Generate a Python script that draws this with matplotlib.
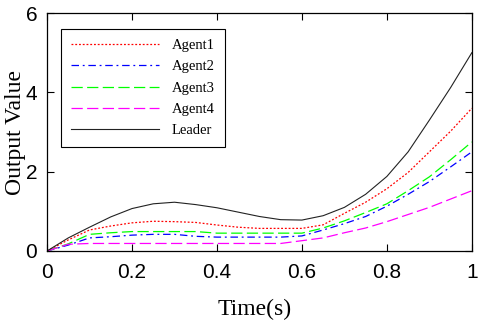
import matplotlib
matplotlib.use("Agg")
import matplotlib.pyplot as plt

# time samples (s)
t = [0.0, 0.05, 0.1, 0.15, 0.2, 0.25, 0.3, 0.35, 0.4, 0.45, 0.5,
     0.55, 0.6, 0.65, 0.7, 0.75, 0.8, 0.85, 0.9, 0.95, 1.0]

agent1 = [0.0, 0.28, 0.53, 0.63, 0.71, 0.75, 0.74, 0.72, 0.655, 0.60, 0.57,
          0.57, 0.57, 0.66, 0.95, 1.23, 1.57, 1.98, 2.50, 3.02, 3.60]
agent2 = [0.0, 0.15, 0.33, 0.36, 0.40, 0.42, 0.42, 0.37, 0.35, 0.35, 0.35,
          0.35, 0.38, 0.53, 0.69, 0.87, 1.13, 1.43, 1.75, 2.12, 2.50]
agent3 = [0.0, 0.18, 0.42, 0.46, 0.49, 0.49, 0.49, 0.49, 0.45, 0.45, 0.45,
          0.45, 0.45, 0.58, 0.76, 0.97, 1.19, 1.52, 1.87, 2.30, 2.75]
agent4 = [0.0, 0.17, 0.19, 0.19, 0.19, 0.19, 0.19, 0.19, 0.19, 0.19, 0.19,
          0.19, 0.26, 0.33, 0.46, 0.58, 0.74, 0.92, 1.10, 1.31, 1.52]
leader = [0.0, 0.33, 0.60, 0.86, 1.07, 1.19, 1.23, 1.17, 1.09, 0.98, 0.87,
          0.79, 0.78, 0.89, 1.10, 1.43, 1.88, 2.50, 3.30, 4.12, 5.00]

labels = ["Agent1", "Agent2", "Agent3", "Agent4", "Leader"]

fig = plt.figure(figsize=(4.8, 3.22), dpi=100)
ax = fig.add_axes([0.098, 0.2205, 0.885, 0.739])

ax.plot(t, agent1, color="#ff0000", linestyle=(0, (1.5, 1.5)), lw=0.9, label=labels[0])
ax.plot(t, agent2, color="#0000ff", linestyle=(0, (6, 3, 1.5, 3)), lw=0.9, label=labels[1])
ax.plot(t, agent3, color="#00ff00", linestyle=(0, (9, 3.5)), lw=0.9, label=labels[2])
ax.plot(t, agent4, color="#ff00ff", linestyle=(0, (9, 3.5)), lw=0.9, label=labels[3])
ax.plot(t, leader, color="#222222", linestyle="-", lw=0.8, label=labels[4])

ax.set_xlim(0, 1)
ax.set_ylim(0, 6)
ax.set_xticks([0, 0.2, 0.4, 0.6, 0.8, 1])
ax.set_xticklabels(["0", "0.2", "0.4", "0.6", "0.8", "1"])
ax.set_yticks([0, 2, 4, 6])
ax.tick_params(direction="in", top=True, right=True, length=5, width=0.8,
               labelsize=15)
ax.tick_params(axis="x", pad=9)
ax.tick_params(axis="y", pad=7)
for lab in ax.get_xticklabels() + ax.get_yticklabels():
    lab.set_family("Liberation Sans")
for s in ax.spines.values():
    s.set_linewidth(0.9)

ax.set_xlabel("Time(s)", fontsize=17, family="Liberation Serif")
ax.xaxis.set_label_coords(0.488, -0.2)
ax.set_ylabel("Output Value", fontsize=17, family="Liberation Serif",
              va="center")
ax.yaxis.set_label_coords(-0.075, 0.5)

leg = ax.legend(loc="upper left", bbox_to_anchor=(0.033, 0.934), borderaxespad=0,
                fancybox=False, framealpha=1, edgecolor="black",
                prop={"family": "Liberation Serif", "size": 10.5},
                handlelength=6.0, handletextpad=0.9, labelspacing=0.55,
                borderpad=0.7)
leg.get_frame().set_linewidth(0.8)

fig.savefig("out.png", dpi=100)
